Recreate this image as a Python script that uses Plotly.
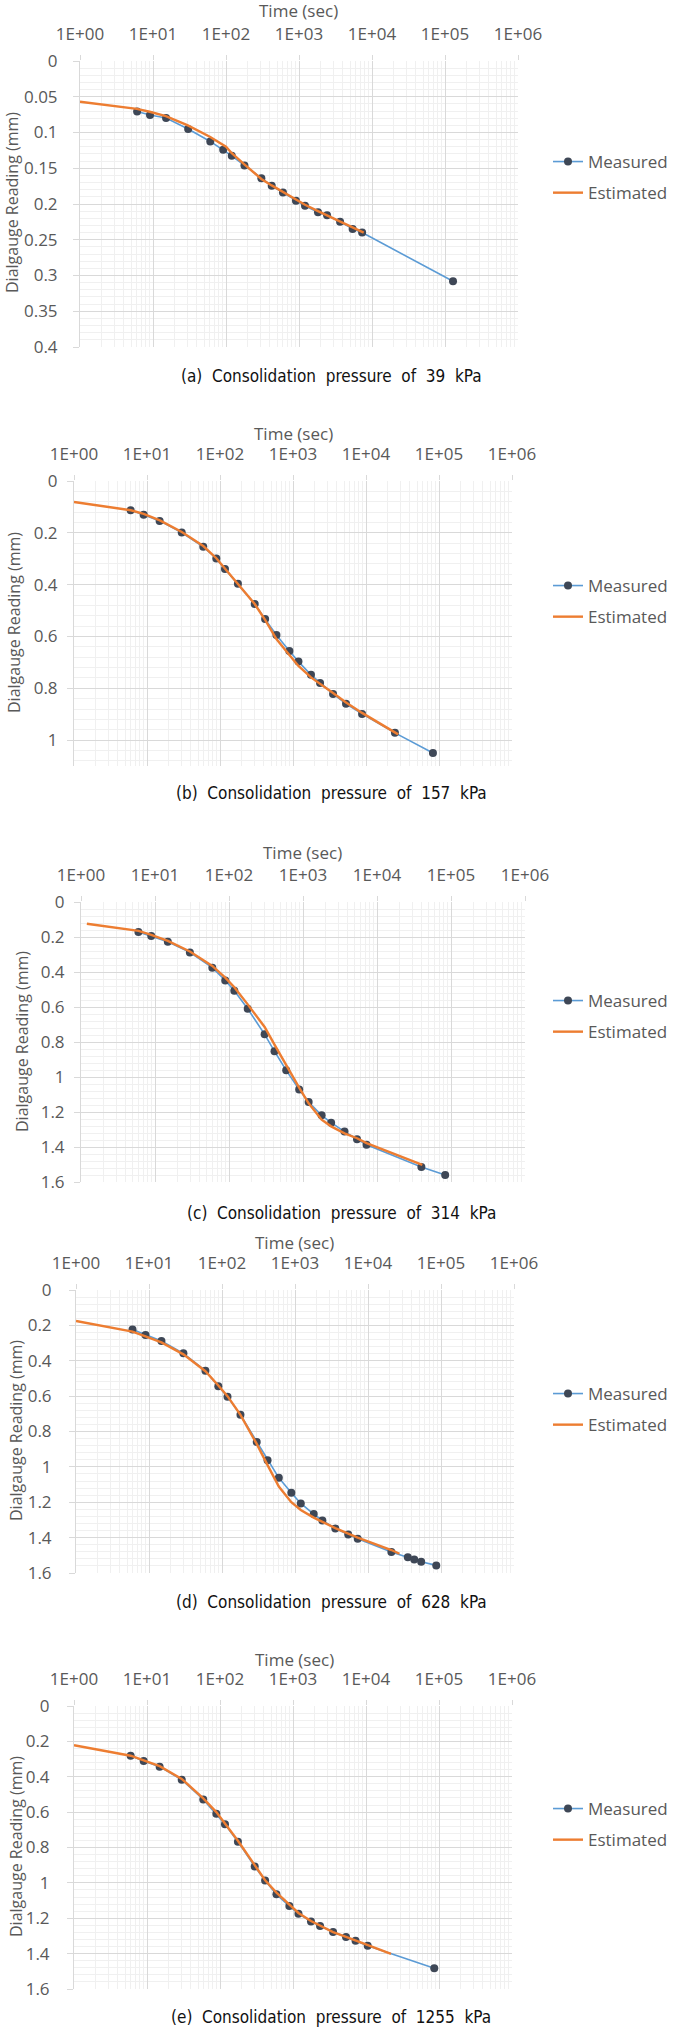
import plotly.graph_objects as go

# ---------------- data ----------------
# (a) 39 kPa
a_meas_t = [6.06, 9.1, 15.1, 30.3, 60.9, 91.6, 120, 179, 305, 423, 603, 908, 1208, 1820, 2425, 3654, 5430, 7325, 128800]
a_meas_d = [0.0705, 0.0756, 0.0798, 0.0952, 0.1125, 0.1242, 0.1326, 0.146, 0.164, 0.1746, 0.184, 0.1956, 0.2026, 0.2115, 0.2157, 0.225, 0.2348, 0.240, 0.308]
a_est_t = [1, 6, 9, 15, 30, 60, 100, 120, 180, 305, 423, 603, 908, 1208, 1820, 2425, 3654, 5430, 7700]
a_est_d = [0.057, 0.067, 0.071, 0.077, 0.090, 0.106, 0.120, 0.129, 0.145, 0.165, 0.174, 0.183, 0.194, 0.201, 0.210, 0.216, 0.225, 0.233, 0.240]

# (b) 157 kPa
b_meas_t = [5.97, 9.0, 14.9, 29.9, 59, 89, 117, 176, 299, 415, 593, 892, 1188, 1763, 2348, 3538, 5327, 8830, 24900, 82600]
b_meas_d = [0.113, 0.130, 0.154, 0.199, 0.254, 0.299, 0.340, 0.397, 0.475, 0.533, 0.594, 0.656, 0.697, 0.748, 0.780, 0.822, 0.860, 0.899, 0.972, 1.050]
b_est_t = [1, 6, 9, 15, 30, 59, 89, 117, 176, 299, 415, 593, 892, 1188, 1763, 2348, 3538, 5327, 8830, 27600]
b_est_d = [0.081, 0.113, 0.127, 0.152, 0.197, 0.251, 0.298, 0.337, 0.397, 0.475, 0.536, 0.610, 0.672, 0.714, 0.758, 0.782, 0.818, 0.855, 0.895, 0.978]

# (c) 314 kPa
c_meas_t = [5.97, 8.9, 14.9, 29.6, 59.5, 89, 118, 179, 303, 412, 593, 887, 1192, 1785, 2400, 3640, 5370, 7220, 39800, 83400]
c_meas_d = [0.171, 0.194, 0.227, 0.288, 0.375, 0.448, 0.507, 0.610, 0.756, 0.853, 0.962, 1.072, 1.143, 1.219, 1.261, 1.312, 1.356, 1.387, 1.514, 1.560]
c_est_t = [1.2, 6, 8.9, 14.9, 29.6, 59.5, 89, 118, 179, 303, 412, 593, 887, 1192, 1785, 2400, 3640, 5370, 7220, 41000]
c_est_d = [0.124, 0.165, 0.188, 0.222, 0.283, 0.365, 0.432, 0.487, 0.585, 0.714, 0.815, 0.933, 1.061, 1.150, 1.244, 1.282, 1.322, 1.350, 1.378, 1.502]

# (d) 628 kPa
d_meas_t = [5.94, 8.95, 14.8, 29.6, 59.3, 89, 119, 179, 299, 421, 600, 890, 1200, 1805, 2370, 3565, 5360, 7230, 20900, 35100, 43000, 53500, 86100]
d_meas_d = [0.224, 0.254, 0.288, 0.358, 0.457, 0.544, 0.604, 0.706, 0.860, 0.962, 1.062, 1.146, 1.207, 1.267, 1.303, 1.348, 1.382, 1.406, 1.481, 1.511, 1.523, 1.536, 1.557]
d_est_t = [1, 5.94, 8.95, 14.8, 29.6, 59.3, 89, 119, 179, 299, 421, 600, 890, 1200, 1805, 2370, 3565, 5360, 7230, 20900, 27000]
d_est_d = [0.175, 0.235, 0.262, 0.296, 0.364, 0.459, 0.540, 0.600, 0.706, 0.870, 0.990, 1.111, 1.200, 1.244, 1.287, 1.312, 1.346, 1.377, 1.400, 1.470, 1.491]

# (e) 1255 kPa
e_meas_t = [5.97, 9.0, 14.9, 29.9, 59, 89, 117, 176, 299, 415, 593, 892, 1188, 1763, 2348, 3538, 5327, 7190, 10550, 86100]
e_meas_d = [0.281, 0.311, 0.343, 0.417, 0.528, 0.609, 0.669, 0.767, 0.907, 0.986, 1.065, 1.131, 1.174, 1.219, 1.244, 1.278, 1.306, 1.327, 1.355, 1.483]
e_est_t = [1, 5.97, 9, 14.9, 29.9, 59, 89, 117, 176, 299, 415, 593, 892, 1188, 1763, 2348, 3538, 5327, 7190, 10550, 22000]
e_est_d = [0.222, 0.281, 0.307, 0.340, 0.412, 0.522, 0.600, 0.663, 0.762, 0.900, 0.985, 1.055, 1.125, 1.170, 1.216, 1.243, 1.278, 1.305, 1.325, 1.352, 1.402]

x_tickvals = [1, 10, 100, 1000, 10000, 100000, 1000000]
x_ticktext = ["1E+00", "1E+01", "1E+02", "1E+03", "1E+04", "1E+05", "1E+06"]

a_yticks = [0, 0.05, 0.1, 0.15, 0.2, 0.25, 0.3, 0.35, 0.4]
a_ytext = ["0", "0.05", "0.1", "0.15", "0.2", "0.25", "0.3", "0.35", "0.4"]
b_yticks = [0, 0.2, 0.4, 0.6, 0.8, 1.0]
b_ytext = ["0", "0.2", "0.4", "0.6", "0.8", "1"]
cde_yticks = [0, 0.2, 0.4, 0.6, 0.8, 1.0, 1.2, 1.4, 1.6]
cde_ytext = ["0", "0.2", "0.4", "0.6", "0.8", "1", "1.2", "1.4", "1.6"]

captions = [
    "(a) Consolidation pressure of 39 kPa",
    "(b) Consolidation pressure of 157 kPa",
    "(c) Consolidation pressure of 314 kPa",
    "(d) Consolidation pressure of 628 kPa",
    "(e) Consolidation pressure of 1255 kPa",
]

# ---------------- layout geometry (pixels) ----------------
W, H = 674, 2027
panels = [
    dict(mt=a_meas_t, md=a_meas_d, et=a_est_t, ed=a_est_d, ymax=0.4, yt=a_yticks, ytt=a_ytext, ydt=0.01,
         x0=80, x1=518, y0=61, y1=347, leg=144, tt=(298, 10), yti=(12, 203), cap=(331, 376), std=12),
    dict(mt=b_meas_t, md=b_meas_d, et=b_est_t, ed=b_est_d, ymax=1.1, yt=b_yticks, ytt=b_ytext, ydt=0.04,
         x0=74, x1=512, y0=481, y1=766, leg=568, tt=(293, 433), yti=(14, 623), cap=(331, 793), std=6),
    dict(mt=c_meas_t, md=c_meas_d, et=c_est_t, ed=c_est_d, ymax=1.6, yt=cde_yticks, ytt=cde_ytext, ydt=0.04,
         x0=81, x1=525, y0=902, y1=1182, leg=983, tt=(302, 852), yti=(22, 1042), cap=(341, 1213), std=6),
    dict(mt=d_meas_t, md=d_meas_d, et=d_est_t, ed=d_est_d, ymax=1.6, yt=cde_yticks, ytt=cde_ytext, ydt=0.04,
         x0=76, x1=514, y0=1290, y1=1573, leg=1376, tt=(294, 1242), yti=(16, 1431), cap=(331, 1602), std=14),
    dict(mt=e_meas_t, md=e_meas_d, et=e_est_t, ed=e_est_d, ymax=1.6, yt=cde_yticks, ytt=cde_ytext, ydt=0.04,
         x0=74, x1=512, y0=1706, y1=1989, leg=1791, tt=(294, 1659), yti=(16, 1847), cap=(331, 2017), std=14),
]

FONT = "Open Sans"
TXT = "#595959"
BLUE = "#5B9BD5"
ORANGE = "#ED7D31"
MARK = "#3E4756"
GRID = "#D9D9D9"
MINOR = "#F0F0F0"

fig = go.Figure()
annotations = []
layout = {}

for i, p in enumerate(panels):
    n = i + 1
    sfx = "" if n == 1 else str(n)
    xa, ya = "x" + sfx, "y" + sfx
    lg = "legend" + sfx
    fig.add_trace(go.Scatter(
        x=p["mt"], y=p["md"], mode="lines+markers", name="Measured",
        line=dict(color=BLUE, width=1.6), marker=dict(color=MARK, size=8),
        xaxis=xa, yaxis=ya, legend=lg, legendgroup="m%d" % n))
    fig.add_trace(go.Scatter(
        x=p["et"], y=p["ed"], mode="lines", name="Estimated",
        line=dict(color=ORANGE, width=2.4),
        xaxis=xa, yaxis=ya, legend=lg, legendgroup="e%d" % n))

    layout["xaxis" + sfx] = dict(
        type="log", range=[0, 6], domain=[p["x0"] / W, p["x1"] / W], anchor=ya, side="top",
        tickvals=x_tickvals, ticktext=x_ticktext, showgrid=True, gridcolor=GRID, gridwidth=1,
        ticks="outside", ticklen=5, tickcolor=GRID, ticklabelstandoff=8, automargin=False,
        tickfont=dict(family=FONT, size=17, color=TXT),
        minor=dict(dtick="D1", showgrid=True, gridcolor=MINOR, ticks=""),
        showline=False, zeroline=False, fixedrange=True)
    layout["yaxis" + sfx] = dict(
        range=[p["ymax"], 0], domain=[1 - p["y1"] / H, 1 - p["y0"] / H], anchor=xa,
        tickvals=p["yt"], ticktext=p["ytt"], showgrid=True, gridcolor=GRID, gridwidth=1,
        ticks="outside", ticklen=6, tickcolor=GRID, ticklabelstandoff=p["std"], automargin=False,
        tickfont=dict(family=FONT, size=17, color=TXT),
        minor=dict(dtick=p["ydt"], showgrid=True, gridcolor=MINOR, ticks=""),
        showline=True, linecolor=GRID, zeroline=False, fixedrange=True)
    layout[lg] = dict(
        x=548 / W, y=1 - p["leg"] / H, xanchor="left", yanchor="top",
        font=dict(family=FONT, size=17, color=TXT), bgcolor="rgba(0,0,0,0)",
        tracegroupgap=6, itemwidth=30)

    annotations.append(dict(text="Time (sec)", x=p["tt"][0] / W, y=1 - p["tt"][1] / H, xref="paper", yref="paper",
                            showarrow=False, xanchor="center", yanchor="middle",
                            font=dict(family=FONT, size=17, color=TXT)))
    annotations.append(dict(text="Dialgauge Reading (mm)", x=p["yti"][0] / W, y=1 - p["yti"][1] / H,
                            xref="paper", yref="paper", showarrow=False, textangle=-90,
                            xanchor="center", yanchor="middle",
                            font=dict(family=FONT, size=16, color=TXT)))
    cap = captions[i].replace(" ", "\u00a0\u00a0")
    annotations.append(dict(text=cap, x=p["cap"][0] / W, y=1 - p["cap"][1] / H, xref="paper", yref="paper",
                            showarrow=False, xanchor="center", yanchor="middle",
                            font=dict(family="Liberation Sans Narrow, DejaVu Sans Condensed, Roboto", size=17, color="#111111")))

fig.update_layout(
    width=W, height=H, margin=dict(l=0, r=0, t=0, b=0, pad=0, autoexpand=False),
    paper_bgcolor="white", plot_bgcolor="white",
    annotations=annotations, **layout)

fig.write_html("out.html")
